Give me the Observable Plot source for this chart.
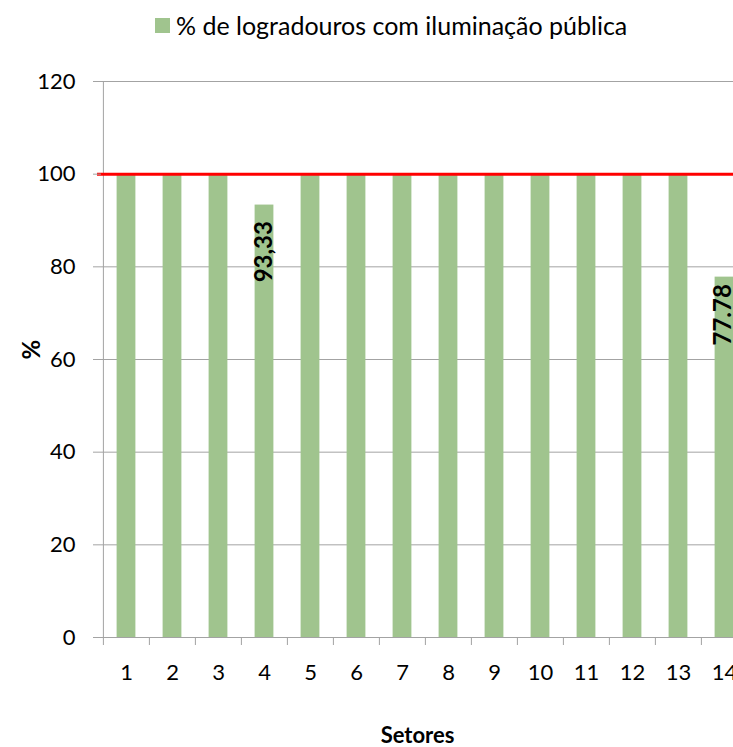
<!DOCTYPE html>
<html>
<head>
<meta charset="utf-8">
<script src="https://cdn.jsdelivr.net/npm/d3@7"></script>
<script src="https://cdn.jsdelivr.net/npm/@observablehq/plot@0.6"></script>
<style>
  html, body { margin: 0; padding: 0; background: #fff; overflow: hidden; }
  body { width: 733px; height: 747px; font-family: Lato, "Open Sans", sans-serif; }
  #legend { height: 50px; display: flex; align-items: center; padding-left: 155px; box-sizing: border-box; font-size: 25px; color: #000; }
  #legend .sw { width: 15px; height: 15px; background: #a0c48e; margin-right: 6px; }
</style>
</head>
<body>
<div id="legend"><span class="sw"></span><span>% de logradouros com iluminação pública</span></div>
<div id="chart"></div>
<script>
const sectors = ["1","2","3","4","5","6","7","8","9","10","11","12","13","14"];
const values = [100,100,100,93.33,100,100,100,100,100,100,100,100,100,77.78];
const valueLabels = ["","","","93,33","","","","","","","","","","77.78"];
const yTicks = [0,20,40,60,80,100,120];
const target = 100;
const seriesName = "% de logradouros com iluminação pública";
const xTitle = "Setores";
const yTitle = "%";

const rows = sectors.map((s, i) => ({cat: s, value: values[i], label: valueLabels[i]}));

const barColor = "#a0c48e";
const lineGray = "#a3a3a3";
const xRange = [101, 748];
const step = (xRange[1] - xRange[0]) / sectors.length;
const barW = 19;

const plot = Plot.plot({
  width: 733,
  height: 697,
  marginLeft: 101,
  marginRight: 0,
  marginTop: 31,
  marginBottom: 110,
  style: {fontFamily: "Lato, 'Open Sans', sans-serif", background: "#fff", color: "#000"},
  x: {type: "band", domain: sectors, range: xRange, padding: 0},
  y: {domain: [0, 120]},
  marks: [
    Plot.gridY(yTicks, {stroke: lineGray, strokeOpacity: 1, strokeWidth: 1}),
    Plot.ruleX([sectors[0]], {x: d => d, dx: -step / 2, y1: 0, y2: 120, stroke: lineGray, strokeWidth: 1}),
    Plot.ruleX(sectors, {x: d => d, dx: -step / 2, y1: 0, y2: 0, insetBottom: -8, stroke: lineGray, strokeWidth: 1}),
    Plot.barY(rows, {x: "cat", y: "value", fill: barColor, insetLeft: (step - barW) / 2, insetRight: (step - barW) / 2}),
    Plot.ruleY([target], {stroke: "#ff0000", strokeWidth: 3, insetLeft: -4}),
    Plot.axisY(yTicks, {tickSize: 8, tickPadding: 18, fontSize: 22, stroke: lineGray, fill: "#000", label: null}),
    Plot.axisX({tickSize: 0, tickPadding: 27, fontSize: 22, fill: "#000", label: null}),
    Plot.text(rows.filter(d => d.label === valueLabels[3]), {x: "cat", y: "value", text: "label", rotate: -90, textAnchor: "end", lineAnchor: "middle", dy: 16, fontWeight: "bold", fontSize: 24, fill: "#000"}),
    Plot.text(rows.filter(d => d.label === valueLabels[13]), {x: "cat", y: "value", text: "label", rotate: -90, textAnchor: "end", lineAnchor: "middle", dx: -1, dy: 7, fontWeight: "bold", fontSize: 24, fill: "#000"}),
    Plot.text([yTitle], {frameAnchor: "left", dx: -69, rotate: -90, lineAnchor: "middle", fontWeight: "bold", fontSize: 24, fill: "#000"}),
    Plot.text([xTitle], {frameAnchor: "bottom", dy: 98, lineAnchor: "middle", fontWeight: "bold", fontSize: 22, fill: "#000"})
  ]
});
document.getElementById("chart").appendChild(plot);
</script>
</body>
</html>
